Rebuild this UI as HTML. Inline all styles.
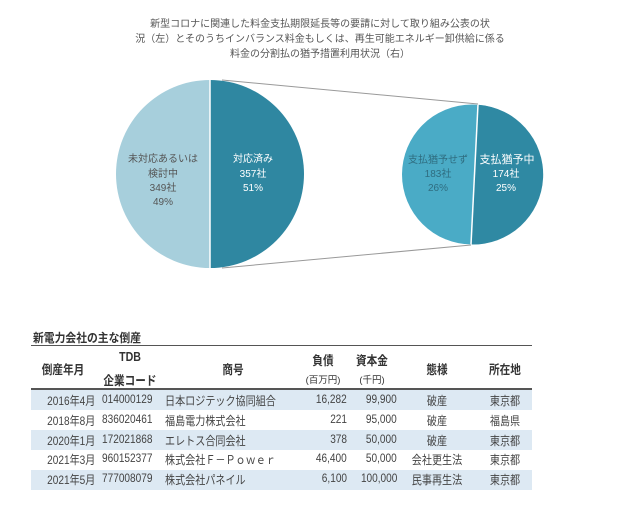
<!DOCTYPE html><html><head><meta charset="utf-8"><style>
body{margin:0;width:640px;height:512px;background:#fff;position:relative;overflow:hidden;font-family:"Liberation Sans","Noto Sans CJK JP",sans-serif;}
.t{position:absolute;white-space:nowrap;}
.title{left:0;width:640px;top:17px;text-align:center;font-size:10px;line-height:15px;color:#555;}
.band{position:absolute;left:31px;width:501px;height:20px;background:#dde9f3;}
.c{position:absolute;font-size:12px;color:#444;white-space:nowrap;}
.l{transform:scaleX(0.84);transform-origin:left;}
.r{transform:scaleX(0.84);transform-origin:right;}
.m{transform:translateX(-50%) scaleX(0.84);}
.h{position:absolute;font-size:12.5px;font-weight:bold;color:#333;white-space:nowrap;transform:translateX(-50%) scaleX(0.85);}
.s{position:absolute;font-size:9.5px;color:#333;white-space:nowrap;transform:translateX(-50%);}
</style></head><body>
<div class="t title">新型コロナに関連した料金支払期限延長等の要請に対して取り組み公表の状<br>況（左）とそのうちインバランス料金もしくは、再生可能エネルギー卸供給に係る<br>料金の分割払の猶予措置利用状況（右）</div>
<svg width="640" height="300" style="position:absolute;left:0;top:0">
<line x1="222" y1="80" x2="478" y2="104" stroke="#999" stroke-width="1"/>
<line x1="222" y1="268" x2="471" y2="245" stroke="#999" stroke-width="1"/>
<path d="M210,80 A94,94 0 0,0 210,268 Z" fill="#a7cfdc"/>
<path d="M210,80 A94,94 0 0,1 210,268 Z" fill="#2f87a1"/>
<line x1="210" y1="80" x2="210" y2="268" stroke="#fff" stroke-width="1.5"/>
<circle cx="472" cy="174.5" r="70" fill="#4aabc6"/>
<path d="M478,104.7 A70,70 0 0,1 471,244.5 Z" fill="#2f89a3"/>
<line x1="478" y1="104.5" x2="471" y2="244.5" stroke="#fff" stroke-width="1.5"/>
<g font-size="10" text-anchor="middle" font-family="Liberation Sans,Noto Sans CJK JP,sans-serif">
<g fill="#555"><text x="163" y="162">未対応あるいは</text><text x="163" y="177">検討中</text><text x="163" y="191">349社</text><text x="163" y="205">49%</text></g>
<g fill="#fff"><text x="253" y="162">対応済み</text><text x="253" y="177">357社</text><text x="253" y="191">51%</text>
<text x="507" y="163" font-size="11">支払猶予中</text><text x="506" y="177">174社</text><text x="506" y="191">25%</text></g>
<g fill="#2f6d80"><text x="438" y="163">支払猶予せず</text><text x="438" y="177">183社</text><text x="438" y="191">26%</text></g>
</g></svg>
<div class="t" style="left:33px;top:329px;font-size:12px;font-weight:bold;color:#333;transform:scaleX(0.9);transform-origin:left">新電力会社の主な倒産</div>
<div style="position:absolute;left:31px;width:501px;top:345px;height:1px;background:#555"></div>
<div class="h" style="left:63px;top:359px">倒産年月</div>
<div class="h" style="left:130px;top:350px">TDB</div>
<div class="h" style="left:130px;top:370px">企業コード</div>
<div class="h" style="left:233px;top:359px">商号</div>
<div class="h" style="left:323px;top:350px">負債</div>
<div class="s" style="left:323px;top:372px">(百万円)</div>
<div class="h" style="left:372px;top:350px">資本金</div>
<div class="s" style="left:372px;top:372px">(千円)</div>
<div class="h" style="left:437px;top:359px">態様</div>
<div class="h" style="left:505px;top:359px">所在地</div>
<div style="position:absolute;left:31px;width:501px;top:388px;height:2px;background:#555"></div>
<div class="band" style="top:390px"></div>
<div class="band" style="top:430px"></div>
<div class="band" style="top:470px"></div>
<div class="c r" style="right:545px;top:392px">2016年4月</div><div class="c l" style="left:102px;top:392px">014000129</div><div class="c l" style="left:165px;top:392px">日本ロジテック協同組合</div><div class="c r" style="right:293px;top:392px">16,282</div><div class="c r" style="right:243px;top:392px">99,900</div><div class="c m" style="left:437px;top:392px">破産</div><div class="c m" style="left:505px;top:392px">東京都</div>
<div class="c r" style="right:545px;top:412px">2018年8月</div><div class="c l" style="left:102px;top:412px">836020461</div><div class="c l" style="left:165px;top:412px">福島電力株式会社</div><div class="c r" style="right:293px;top:412px">221</div><div class="c r" style="right:243px;top:412px">95,000</div><div class="c m" style="left:437px;top:412px">破産</div><div class="c m" style="left:505px;top:412px">福島県</div>
<div class="c r" style="right:545px;top:432px">2020年1月</div><div class="c l" style="left:102px;top:432px">172021868</div><div class="c l" style="left:165px;top:432px">エレトス合同会社</div><div class="c r" style="right:293px;top:432px">378</div><div class="c r" style="right:243px;top:432px">50,000</div><div class="c m" style="left:437px;top:432px">破産</div><div class="c m" style="left:505px;top:432px">東京都</div>
<div class="c r" style="right:545px;top:451px">2021年3月</div><div class="c l" style="left:102px;top:451px">960152377</div><div class="c l" style="left:165px;top:451px">株式会社Ｆ－Ｐｏｗｅｒ</div><div class="c r" style="right:293px;top:451px">46,400</div><div class="c r" style="right:243px;top:451px">50,000</div><div class="c m" style="left:437px;top:451px">会社更生法</div><div class="c m" style="left:505px;top:451px">東京都</div>
<div class="c r" style="right:545px;top:471px">2021年5月</div><div class="c l" style="left:102px;top:471px">777008079</div><div class="c l" style="left:165px;top:471px">株式会社パネイル</div><div class="c r" style="right:293px;top:471px">6,100</div><div class="c r" style="right:243px;top:471px">100,000</div><div class="c m" style="left:437px;top:471px">民事再生法</div><div class="c m" style="left:505px;top:471px">東京都</div>
</body></html>
